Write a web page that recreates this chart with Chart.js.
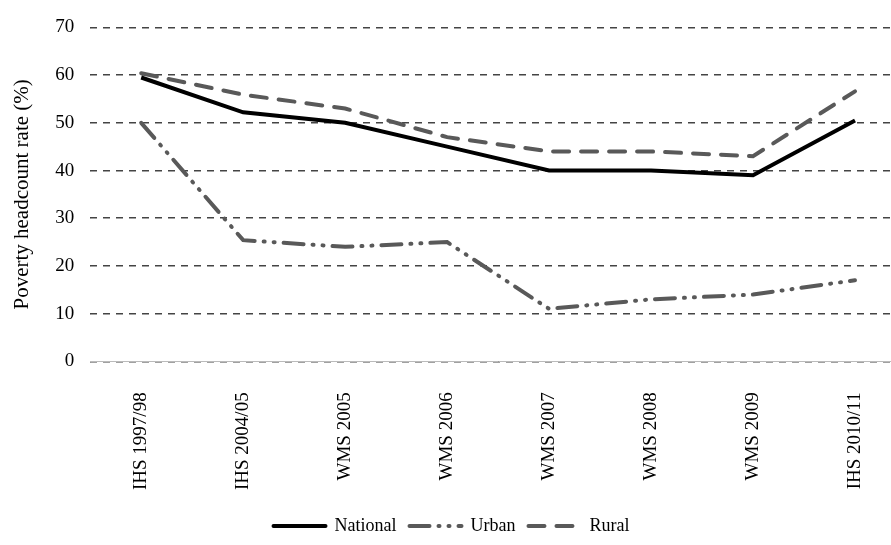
<!DOCTYPE html>
<html><head><script src="https://cdn.jsdelivr.net/npm/chart.js@4"></script>
<style>body{margin:0;background:#fff}#w{width:891px;height:545px;overflow:hidden}</style></head>
<body><div id="w"><canvas id="c" width="910" height="545" style="width:910px;height:545px"></canvas></div>
<script>
const categories=["IHS 1997/98","IHS 2004/05","WMS 2005","WMS 2006","WMS 2007","WMS 2008","WMS 2009","IHS 2010/11"];
const national=[59.5,52.2,50,45,40,40,39,50.5];
const urban=[50,25.4,24,25,11,13,14,17];
const rural=[60.4,55.9,53,47,44,44,43,56.6];
const F="'Liberation Serif','Times New Roman',serif";
new Chart(document.getElementById('c'),{type:'line',
data:{labels:categories,datasets:[
{label:'National',data:national,borderColor:'#000',borderWidth:4,pointRadius:0,tension:0},
{label:'Urban',data:urban,borderColor:'#595959',borderWidth:4,borderDash:[20,9,1,9,1,9],borderCapStyle:'round',pointRadius:0},
{label:'Rural',data:rural,borderColor:'#595959',borderWidth:4,borderDash:[16,12],borderCapStyle:'round',pointRadius:0}]},
options:{responsive:false,animation:false,
layout:{padding:{left:6,right:4,top:12,bottom:0}},
scales:{x:{offset:true,grid:{display:false},border:{display:true,color:'#bbb'},
ticks:{color:'#000',font:{family:F,size:19},maxRotation:90,minRotation:90,padding:23}},
y:{min:0,max:70,ticks:{stepSize:10,color:'#000',font:{family:F,size:19},padding:16},
border:{display:false,dash:[7,6]},grid:{color:'#444',lineWidth:1.5,tickLength:0},
title:{display:true,text:'Poverty headcount rate (%)',color:'#000',font:{family:F,size:21},padding:4}}},
plugins:{legend:{position:'bottom',labels:{color:'#000',font:{family:F,size:18},usePointStyle:true,pointStyle:'line',pointStyleWidth:52,boxHeight:4,padding:4,
generateLabels(ch){return ch.data.datasets.map((d,i)=>({text:d.label+'  ',strokeStyle:d.borderColor,fillStyle:d.borderColor,lineWidth:4,lineDash:d.borderDash||[],lineCap:'round',pointStyle:'line',datasetIndex:i}));}}}}}});
</script></body></html>
